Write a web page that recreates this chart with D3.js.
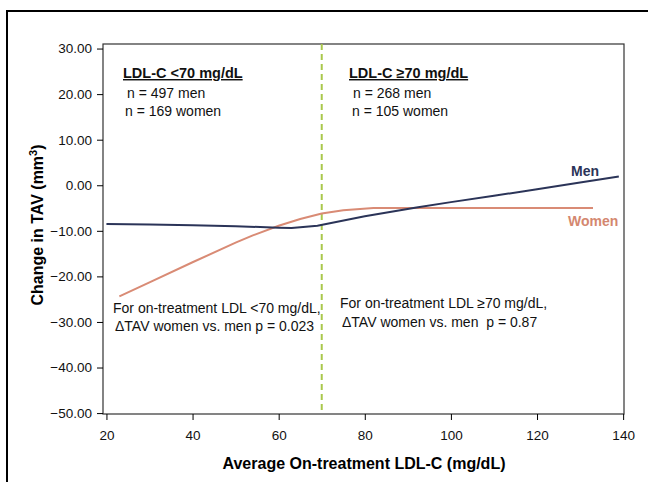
<!DOCTYPE html>
<html>
<head>
<meta charset="utf-8">
<script src="https://cdn.jsdelivr.net/npm/d3@7"></script>
<style>
  body { margin: 0; background: #fff; }
  svg { font-family: "Liberation Sans", Arial, Helvetica, sans-serif; }
  .tick text { font-size: 13.5px; fill: #111; }
</style>
</head>
<body>
<div id="chart"></div>
<script>
// LDL-C (mg/dL) vs change in TAV (mm3)
var menLdl = [20, 30, 40, 50, 60, 63, 69, 80, 92, 100, 110, 120, 130, 139];
var menTav = [-8.5, -8.6, -8.8, -9.0, -9.3, -9.4, -8.9, -6.8, -4.9, -3.7, -2.3, -0.9, 0.6, 1.9];

var womenLdl = [23, 30, 40, 50, 54, 60, 65, 70, 75, 82, 100, 120, 133];
var womenTav = [-24.4, -21.3, -16.9, -12.6, -11.0, -8.9, -7.4, -6.2, -5.5, -5.0, -5.0, -5.0, -5.0];

var xTicks = [20, 40, 60, 80, 100, 120, 140];
var yTicks = [-50, -40, -30, -20, -10, 0, 10, 20, 30];
var cutoff = 70;

var width = 648, height = 482;
var plotL = 103, plotR = 624, plotT = 44, plotB = 414;

var svg = d3.select("#chart").append("svg")
    .attr("width", width)
    .attr("height", height);

// outer figure border
svg.append("rect")
    .attr("x", 7).attr("y", 11)
    .attr("width", 700).attr("height", 500)
    .attr("fill", "none")
    .attr("stroke", "#000")
    .attr("stroke-width", 2);

var x = d3.scaleLinear().domain([19.2, 140.2]).range([plotL, plotR]);
var y = d3.scaleLinear().domain([-50.2, 31.0]).range([plotB, plotT]);

// plot frame
svg.append("rect")
    .attr("x", plotL).attr("y", plotT)
    .attr("width", plotR - plotL).attr("height", plotB - plotT)
    .attr("fill", "none")
    .attr("stroke", "#333")
    .attr("stroke-width", 1.2);

var xAxis = svg.append("g")
    .attr("transform", "translate(0," + plotB + ")")
    .call(d3.axisBottom(x).tickValues(xTicks).tickSize(6).tickSizeOuter(0).tickPadding(10));
xAxis.select(".domain").remove();

var yAxis = svg.append("g")
    .attr("transform", "translate(" + plotL + ",0)")
    .call(d3.axisLeft(y).tickValues(yTicks).tickSize(6).tickSizeOuter(0).tickPadding(5)
      .tickFormat(d3.format(".2f")));
yAxis.select(".domain").remove();

// axis titles
svg.append("text")
    .attr("x", 364).attr("y", 469)
    .attr("text-anchor", "middle")
    .style("font-size", "16px").style("font-weight", "bold")
    .text("Average On-treatment LDL-C (mg/dL)");

var yTitle = svg.append("text")
    .attr("transform", "translate(43,225) rotate(-90)")
    .attr("text-anchor", "middle")
    .style("font-size", "16px").style("font-weight", "bold");
yTitle.append("tspan").text("Change in TAV (mm");
yTitle.append("tspan").attr("dy", -6).style("font-size", "11px").text("3");
yTitle.append("tspan").attr("dy", 6).text(")");

// cutoff line
svg.append("line")
    .attr("x1", x(cutoff)).attr("x2", x(cutoff))
    .attr("y1", plotT).attr("y2", plotB)
    .attr("stroke", "#a9c84b")
    .attr("stroke-width", 2)
    .attr("stroke-dasharray", "6,4");

var line = d3.line()
    .x(function(d) { return x(d[0]); })
    .y(function(d) { return y(d[1]); });

svg.append("path")
    .datum(d3.zip(womenLdl, womenTav))
    .attr("d", line)
    .attr("fill", "none")
    .attr("stroke", "#d98b75")
    .attr("stroke-width", 2);

svg.append("path")
    .datum(d3.zip(menLdl, menTav))
    .attr("d", line)
    .attr("fill", "none")
    .attr("stroke", "#2b3458")
    .attr("stroke-width", 2);

svg.append("text")
    .attr("x", 571).attr("y", 176)
    .style("font-size", "14px").style("font-weight", "bold")
    .attr("fill", "#2b3458")
    .text("Men");

svg.append("text")
    .attr("x", 568).attr("y", 226)
    .style("font-size", "14px").style("font-weight", "bold")
    .attr("fill", "#d4876f")
    .text("Women");

// group annotations
function note(tx, ty, str, bold) {
  var t = svg.append("text")
      .attr("x", tx).attr("y", ty)
      .attr("xml:space", "preserve")
      .style("font-size", bold ? "14.5px" : "14px")
      .style("white-space", "pre")
      .attr("fill", "#111")
      .text(str);
  if (bold) t.style("font-weight", "bold").style("text-decoration", "underline");
  return t;
}

note(123, 78, "LDL-C <70 mg/dL", true);
note(127, 98, "n = 497 men");
note(125, 116, "n = 169 women");

note(349, 78, "LDL-C \u226570 mg/dL", true);
note(353, 98, "n = 268 men");
note(352, 116, "n = 105 women");

note(113, 313, "For on-treatment LDL <70 mg/dL,");
note(115, 331, "\u0394TAV women vs. men p = 0.023");

note(340, 308, "For on-treatment LDL \u226570 mg/dL,");
note(342, 327, "\u0394TAV women vs. men  p = 0.87");
</script>
</body>
</html>
